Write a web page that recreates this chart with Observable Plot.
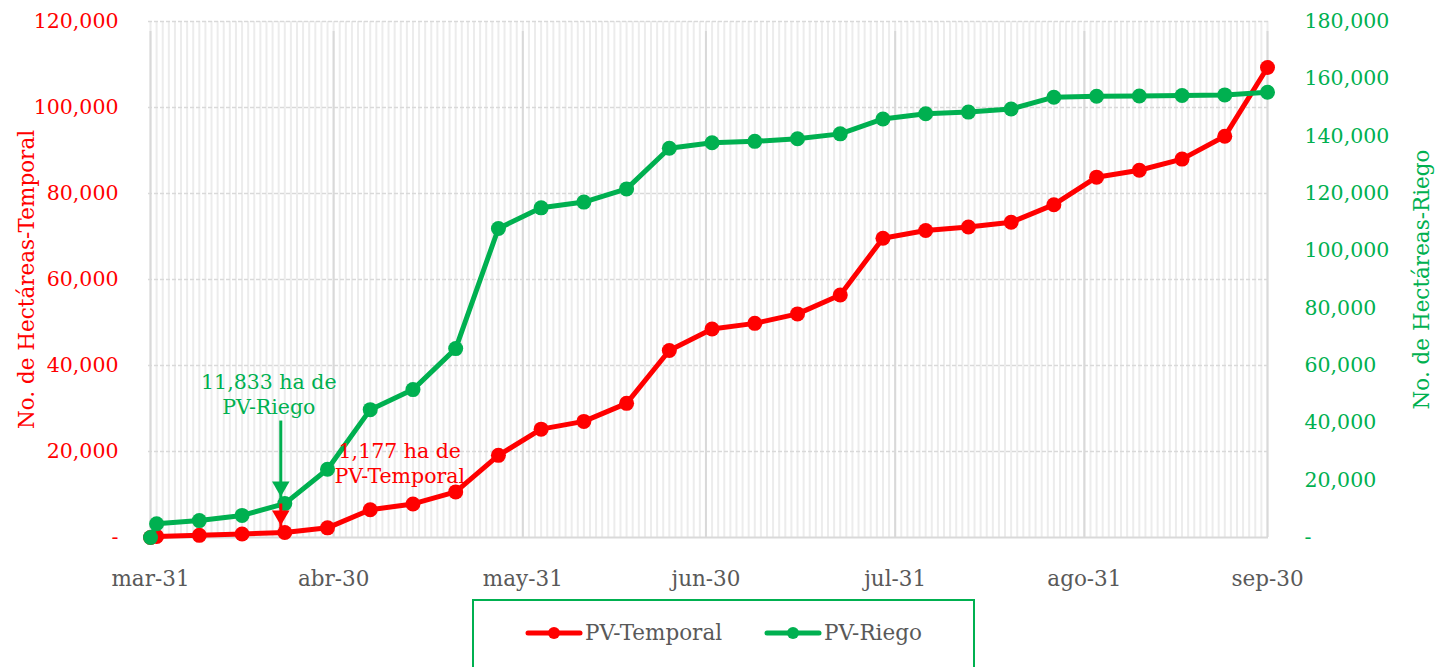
<!DOCTYPE html>
<html>
<head>
<meta charset="utf-8">
<script src="https://cdn.jsdelivr.net/npm/d3@7"></script>
<script src="https://cdn.jsdelivr.net/npm/@observablehq/plot@0.6"></script>
<style>
  body { margin: 0; background: #fff; font-family: "DejaVu Serif", serif; }
  #chart svg { display: block; }
  #legend {
    margin-left: 472px; margin-top: 2px; width: 499px; height: 80px; box-sizing: content-box;
    border: 2px solid #00B050; border-bottom: none;
    display: flex; justify-content: center; align-items: flex-start;
    padding-top: 19px; gap: 42px; color: #595959; font-size: 21.5px;
  }
  .item { display: flex; align-items: center; gap: 2px; }
</style>
</head>
<body>
<div id="chart"></div>
<div id="legend"></div>
<script>
// ---- data ----
const dates = ["2020-03-31","2020-04-01","2020-04-08","2020-04-15","2020-04-22","2020-04-29",
  "2020-05-06","2020-05-13","2020-05-20","2020-05-27","2020-06-03","2020-06-10","2020-06-17",
  "2020-06-24","2020-07-01","2020-07-08","2020-07-15","2020-07-22","2020-07-29","2020-08-05",
  "2020-08-12","2020-08-19","2020-08-26","2020-09-02","2020-09-09","2020-09-16","2020-09-23","2020-09-30"];
const pvTemporal = [0, 250, 500, 800, 1177, 2250, 6450, 7800, 10600, 19100, 25200, 27000, 31200,
  43500, 48500, 49800, 52000, 56400, 69600, 71400, 72200, 73300, 77400, 83800, 85400, 88000, 93300, 109300];
const pvRiego = [0, 4800, 5900, 7700, 11833, 23800, 44600, 51600, 65900, 107800, 115000, 117000, 121600,
  135800, 137700, 138200, 139100, 140800, 146000, 147800, 148400, 149500, 153600, 153900, 154000, 154200, 154400, 155300];
const seriesNames = ["PV-Temporal", "PV-Riego"];
const seriesColors = ["#FF0000", "#00B050"];
const xTickDates = ["2020-03-31","2020-04-30","2020-05-31","2020-06-30","2020-07-31","2020-08-31","2020-09-30"];
const xTickLabels = ["mar-31","abr-30","may-31","jun-30","jul-31","ago-31","sep-30"];
const leftTicks = [0, 20000, 40000, 60000, 80000, 100000, 120000];
const rightTicks = [0, 20000, 40000, 60000, 80000, 100000, 120000, 140000, 160000, 180000];
const leftLabel = "No. de Hectáreas-Temporal";
const rightLabel = "No. de Hectáreas-Riego";
const annotations = [
  {series: "PV-Riego", date: "2020-04-22", value: 11833, text: "11,833 ha de\nPV-Riego", arrowFrom: 40800},
  {series: "PV-Temporal", date: "2020-04-22", value: 1177, text: "1,177 ha de\nPV-Temporal", arrowFrom: 7900}
];

// ---- build ----
const parse = d3.utcParse("%Y-%m-%d");
const ratio = 180000 / 120000; // right axis / left axis
const toLeft = (s, v) => s === "PV-Riego" ? v / ratio : v;
const rows = [];
dates.forEach((d, i) => rows.push({date: parse(d), series: "PV-Temporal", v: pvTemporal[i]}));
dates.forEach((d, i) => rows.push({date: parse(d), series: "PV-Riego", v: pvRiego[i] / ratio}));
const colorOf = s => seriesColors[seriesNames.indexOf(s)];
const tickDates = xTickDates.map(parse);
const days = d3.utcDay.range(tickDates[0], d3.utcDay.offset(tickDates[tickDates.length - 1], 1));
const fmt = d3.format(",");
const anno = annotations.map(a => ({...a, d: parse(a.date), y: toLeft(a.series, a.value), y0: toLeft(a.series, a.arrowFrom), c: colorOf(a.series)}));
const midY = (leftTicks[0] + leftTicks[leftTicks.length - 1]) / 2;

const chart = Plot.plot({
  width: 1435, height: 597,
  marginLeft: 150, marginRight: 168, marginTop: 21, marginBottom: 60,
  style: {fontFamily: "DejaVu Serif, serif", fontSize: "20px", background: "#fff", overflow: "visible"},
  x: {type: "utc", domain: [tickDates[0], tickDates[tickDates.length - 1]]},
  y: {domain: [0, 120000]},
  marks: [
    Plot.ruleX(days, {stroke: "#ececec", strokeWidth: 2}),
    Plot.ruleY(leftTicks.slice(1), {stroke: "#d9d9d9", strokeWidth: 1.5, strokeDasharray: "4,2", insetLeft: -2, insetRight: -1}),
    Plot.ruleX(tickDates, {y1: 0, y2: 120000, stroke: "#d9d9d9", strokeWidth: 2, insetBottom: -10}),
    Plot.ruleY([0], {stroke: "#d9d9d9", strokeWidth: 2, insetLeft: -2, insetRight: -1}),
    Plot.axisX(tickDates, {tickFormat: (d, i) => xTickLabels[i], tickSize: 0, tickPadding: 33, color: "#595959", fontSize: 21.5, label: null}),
    Plot.axisY(leftTicks, {anchor: "left", tickFormat: d => d === 0 ? "-" : fmt(d), tickSize: 0, tickPadding: 32, color: "#FF0000", fontSize: 20.5, label: null}),
    Plot.axisY(rightTicks.map(v => v / ratio), {anchor: "right", tickFormat: d => d === 0 ? "-" : fmt(Math.round(d * ratio)), tickSize: 0, tickPadding: 37, color: "#00B050", fontSize: 20.5, label: null}),
    Plot.text([leftLabel], {frameAnchor: "left", y: () => midY, dx: -123, rotate: -90, textAnchor: "middle", fill: "#FF0000", fontSize: 21.5}),
    Plot.text([rightLabel], {frameAnchor: "right", y: () => midY, dx: 155, rotate: -90, textAnchor: "middle", fill: "#00B050", fontSize: 21.5}),
    Plot.line(rows.filter(r => r.series === "PV-Temporal"), {x: "date", y: "v", stroke: "#FF0000", strokeWidth: 5}),
    Plot.dot(rows.filter(r => r.series === "PV-Temporal"), {x: "date", y: "v", fill: "#FF0000", r: 7.5}),
    Plot.line(rows.filter(r => r.series === "PV-Riego"), {x: "date", y: "v", stroke: "#00B050", strokeWidth: 5}),
    Plot.dot(rows.filter(r => r.series === "PV-Riego"), {x: "date", y: "v", fill: "#00B050", r: 7.5}),
    // annotation arrows
    Plot.link(anno, {x1: "d", x2: "d", y1: "y0", y2: "y", stroke: "c", strokeWidth: 3, dx: -4, insetEnd: 16}),
    Plot.dot(anno, {x: "d", y: "y", symbol: "triangle", rotate: 180, fill: "c", r: 6.5, dx: -4, dy: -17}),
    // annotation texts
    Plot.text(anno.filter(a => a.series === "PV-Riego"), {x: "d", y: "y", text: "text", fill: "c", fontSize: 20.5, lineHeight: 1.22, dx: -16, dy: -110}),
    Plot.text(anno.filter(a => a.series === "PV-Temporal"), {x: "d", y: "y", text: "text", fill: "c", fontSize: 20.5, lineHeight: 1.22, dx: 115, dy: -70})
  ]
});
document.getElementById("chart").appendChild(chart);

// legend
const legend = document.getElementById("legend");
seriesNames.forEach((name, i) => {
  const item = document.createElement("div");
  item.className = "item";
  item.innerHTML = `<svg width="58" height="16"><line x1="3" y1="8" x2="55" y2="8" stroke="${seriesColors[i]}" stroke-width="5" stroke-linecap="round"/><circle cx="29" cy="8" r="6" fill="${seriesColors[i]}"/></svg><span>${name}</span>`;
  legend.appendChild(item);
});
</script>
</body>
</html>
